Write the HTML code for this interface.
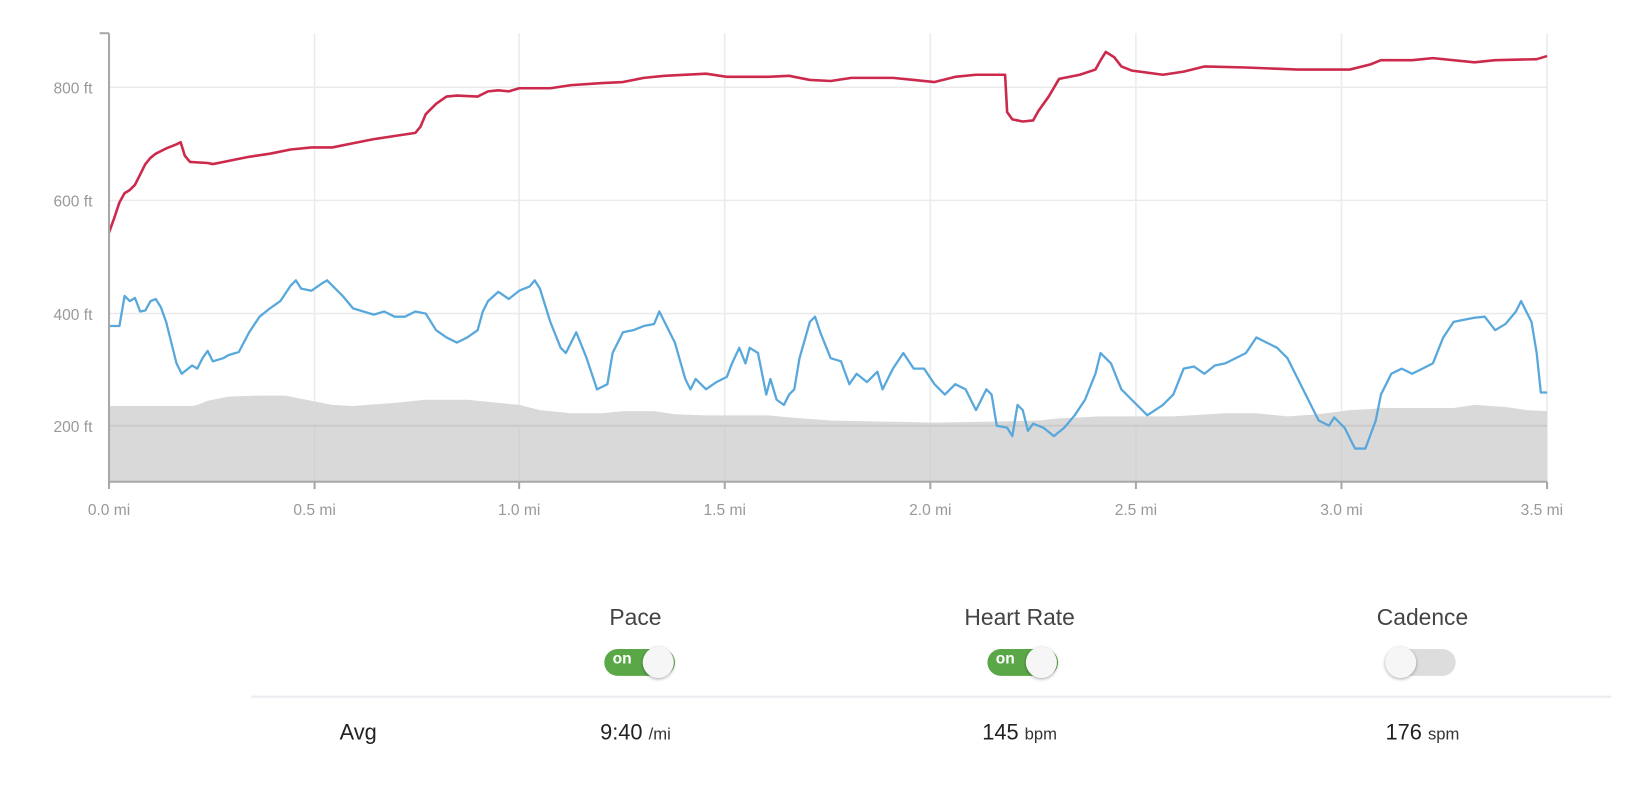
<!DOCTYPE html>
<html><head><meta charset="utf-8"><style>
body{margin:0;background:#fff;width:1628px;height:796px;overflow:hidden;font-family:"Liberation Sans",sans-serif;position:relative}
#w{position:absolute;left:0;top:0;width:1568px;height:767px;transform:scale(1.0383);transform-origin:0 0}
.t{position:absolute;transform:translateX(-50%);font-size:22px;color:#444;white-space:nowrap}
.v{position:absolute;transform:translateX(-50%);font-size:21px;color:#222;white-space:nowrap}
.v small{font-size:16px;color:#333}
.tg{position:absolute;width:68px;height:26px;border-radius:13px;background:#5aa748}
.tg.off{background:#ddd}
.tg b{position:absolute;left:8px;top:1px;color:#fff;font-size:15px}
.tg i{position:absolute;top:-2px;width:30px;height:30px;border-radius:50%;background:#f6f6f6;box-shadow:0 1px 3px rgba(0,0,0,.35)}
</style></head><body><div id="w">
<svg width="1568" height="767" style="position:absolute;left:0;top:0">
<g stroke="#ebebeb" stroke-width="1.5">
<line x1="105" y1="84" x2="1490" y2="84"/><line x1="105" y1="193" x2="1490" y2="193"/><line x1="105" y1="302" x2="1490" y2="302"/>
<line x1="303" y1="32" x2="303" y2="464"/><line x1="500" y1="32" x2="500" y2="464"/><line x1="698" y1="32" x2="698" y2="464"/><line x1="896" y1="32" x2="896" y2="464"/><line x1="1094" y1="32" x2="1094" y2="464"/><line x1="1292" y1="32" x2="1292" y2="464"/><line x1="1490" y1="32" x2="1490" y2="464"/>
</g>
<polygon fill="#d9d9d9" points="105,464 105,391 185,391 190,390 200,386 220,382 250,381 275,381 290,384 320,390 340,391 380,388 410,385 450,385 480,388 500,390 520,395 550,398 580,398 600,396 630,396 650,399 680,400 740,400 760,402 800,405 900,407 960,406 1000,405 1020,403 1060,401 1130,401 1180,398 1210,398 1240,401 1270,399 1300,395 1320,394 1330,393 1400,393 1420,390 1450,392 1470,395 1490,396 1490,464"/>
<line x1="105" y1="410" x2="1490" y2="410" stroke="#c8c8c8" stroke-width="1.5"/>
<g stroke="#d0d0d0" stroke-width="1"><line x1="303" y1="410" x2="303" y2="464"/><line x1="500" y1="410" x2="500" y2="464"/><line x1="698" y1="410" x2="698" y2="464"/><line x1="896" y1="410" x2="896" y2="464"/><line x1="1094" y1="410" x2="1094" y2="464"/><line x1="1292" y1="410" x2="1292" y2="464"/></g>
<polyline fill="none" stroke="#cc2a4d" stroke-width="2.5" stroke-linejoin="round" points="105,224 110,210 115,195 120,186 125,183 130,178 135,168 140,158 145,152 150,148 160,143 170,139 174,137 178,150 183,156 200,157 205,158 215,156 225,154 240,151 260,148 280,144 300,142 320,142 340,138 360,134 380,131 400,128 405,122 410,110 420,100 430,93 440,92 460,93 470,88 480,87 490,88 500,85 530,85 550,82 580,80 600,79 620,75 640,73 680,71 700,74 740,74 760,73 780,77 800,78 820,75 860,75 880,77 900,79 920,74 940,72 968,72 970,108 975,115 985,117 995,116 1000,107 1010,93 1020,76 1040,72 1055,67 1060,58 1065,50 1073,55 1080,64 1090,68 1120,72 1140,69 1160,64 1200,65 1250,67 1300,67 1320,62 1330,58 1360,58 1380,56 1420,60 1440,58 1480,57 1490,54"/>
<polyline fill="none" stroke="#58a8dc" stroke-width="2.2" stroke-linejoin="round" points="105,314 115,314 120,285 125,290 130,287 135,300 140,299 145,290 150,288 155,296 160,310 165,330 170,350 175,360 180,356 185,352 190,355 195,345 200,338 205,348 215,345 220,342 230,339 240,320 250,305 260,297 270,290 280,275 285,270 290,278 300,280 310,273 315,270 320,275 330,285 340,297 350,300 360,303 370,300 380,305 390,305 400,300 410,302 420,318 430,325 440,330 450,325 460,318 465,300 470,290 480,281 490,288 500,280 510,276 515,270 520,278 530,310 540,335 545,340 555,320 565,345 575,375 585,370 590,340 600,320 610,318 620,314 630,312 635,300 640,310 650,330 660,365 665,375 670,365 680,375 690,368 700,363 705,350 712,335 718,350 722,335 730,340 738,380 742,365 748,385 755,390 760,380 765,375 770,345 780,310 785,305 790,320 800,345 810,348 818,370 825,360 835,368 845,358 850,375 860,355 870,340 880,355 890,355 900,370 910,380 920,370 930,375 940,395 950,375 955,380 960,410 970,412 975,420 980,390 985,395 990,415 995,408 1005,412 1015,420 1025,412 1035,400 1045,385 1055,360 1060,340 1070,350 1080,375 1090,385 1100,395 1105,400 1120,390 1130,380 1140,355 1150,353 1160,360 1170,352 1180,350 1190,345 1200,340 1210,325 1220,330 1230,335 1240,345 1250,365 1260,385 1270,405 1280,410 1285,402 1295,412 1305,432 1315,432 1325,405 1330,380 1340,360 1350,355 1360,360 1370,355 1380,350 1390,325 1400,310 1410,308 1420,306 1430,305 1440,318 1450,312 1460,300 1465,290 1470,300 1475,310 1480,340 1484,378 1490,378"/>
<g stroke="#a8a8a8" stroke-width="2"><line x1="105" y1="32" x2="105" y2="471"/><line x1="96" y1="32" x2="105" y2="32"/><line x1="105" y1="464" x2="1490" y2="464"/>
<line x1="303" y1="464" x2="303" y2="471"/><line x1="500" y1="464" x2="500" y2="471"/><line x1="698" y1="464" x2="698" y2="471"/><line x1="896" y1="464" x2="896" y2="471"/><line x1="1094" y1="464" x2="1094" y2="471"/><line x1="1292" y1="464" x2="1292" y2="471"/><line x1="1490" y1="464" x2="1490" y2="471"/></g>
<g fill="#999" font-family="Liberation Sans,sans-serif" font-size="15" text-anchor="end">
<text x="89" y="90">800 ft</text><text x="89" y="199">600 ft</text><text x="89" y="308">400 ft</text><text x="89" y="416">200 ft</text></g>
<g fill="#999" font-family="Liberation Sans,sans-serif" font-size="15" text-anchor="middle">
<text x="105" y="496">0.0 mi</text><text x="303" y="496">0.5 mi</text><text x="500" y="496">1.0 mi</text><text x="698" y="496">1.5 mi</text><text x="896" y="496">2.0 mi</text><text x="1094" y="496">2.5 mi</text><text x="1292" y="496">3.0 mi</text><text x="1485" y="496">3.5 mi</text></g>
<line x1="242" y1="671" x2="1552" y2="671" stroke="#ececf0" stroke-width="2"/>
</svg>
<div class="t" style="left:612px;top:582px">Pace</div>
<div class="t" style="left:982px;top:582px">Heart Rate</div>
<div class="t" style="left:1370px;top:582px">Cadence</div>
<div class="tg" style="left:582px;top:625px"><b>on</b><i style="left:37px"></i></div>
<div class="tg" style="left:951px;top:625px"><b>on</b><i style="left:37px"></i></div>
<div class="tg off" style="left:1334px;top:625px"><i style="left:0px"></i></div>
<div class="v" style="left:345px;top:694px">Avg</div>
<div class="v" style="left:612px;top:694px">9:40 <small>/mi</small></div>
<div class="v" style="left:982px;top:694px">145 <small>bpm</small></div>
<div class="v" style="left:1370px;top:694px">176 <small>spm</small></div>
</div></body></html>
